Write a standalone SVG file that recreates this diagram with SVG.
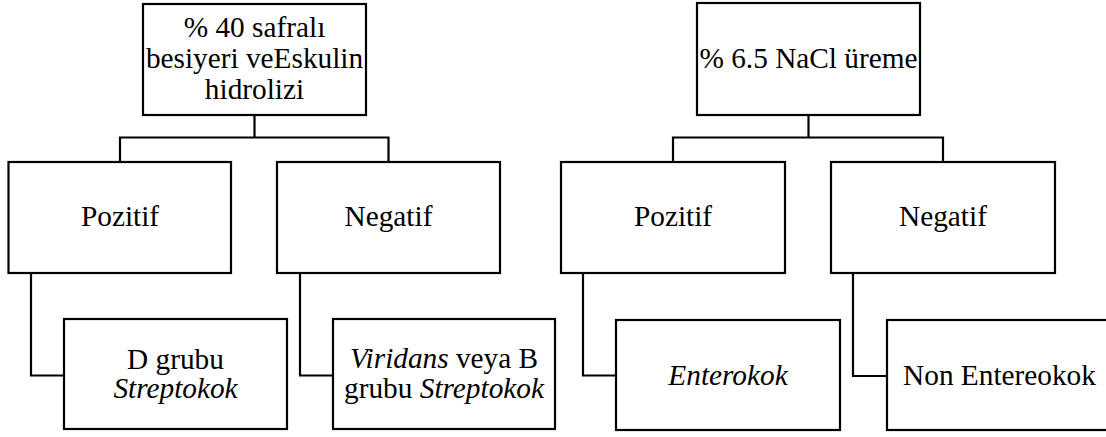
<svg xmlns="http://www.w3.org/2000/svg" width="1106" height="437" viewBox="0 0 1106 437" font-family="Liberation Serif, Times New Roman, DejaVu Serif, serif" font-size="29.3">
<style>
.box{fill:#fff;stroke:#000;stroke-width:2.2}
.con{fill:none;stroke:#000;stroke-width:2.2}
text{fill:#000;text-anchor:middle}
.it{font-style:italic}
</style>
<rect width="1106" height="437" fill="#fff"/>
<g id="connectors">
<path class="con" d="M254.5 115V137.5M120 162V137.5H388.5V162"/>
<path class="con" d="M31 273V375.5H64"/>
<path class="con" d="M300 273V375.5H333"/>
<path class="con" d="M808.5 115V137.5M673 162V137.5H943V162"/>
<path class="con" d="M583 273V375.5H616"/>
<path class="con" d="M853 273V376H887"/>
</g>
<g id="n1"><rect class="box" x="143" y="4" width="223" height="111"/>
<text x="254.5" y="37">% 40 safralı</text><text x="254.5" y="68">besiyeri veEskulin</text><text x="254.5" y="99">hidrolizi</text></g>
<g id="n2"><rect class="box" x="8.5" y="162" width="222.5" height="111"/><text x="120" y="226">Pozitif</text></g>
<g id="n3"><rect class="box" x="277" y="162" width="223" height="111"/><text x="388.5" y="226">Negatif</text></g>
<g id="n4"><rect class="box" x="64" y="319" width="223" height="110"/><text x="175.5" y="369">D grubu</text><text x="175.5" y="398" class="it">Streptokok</text></g>
<g id="n5"><rect class="box" x="333" y="319" width="222" height="110"/><text x="444" y="368"><tspan class="it">Viridans</tspan> veya B</text><text x="444" y="398">grubu <tspan class="it">Streptokok</tspan></text></g>
<g id="n6"><rect class="box" x="697" y="3" width="223" height="112"/><text x="808.5" y="68">% 6.5 NaCl üreme</text></g>
<g id="n7"><rect class="box" x="561" y="162" width="224" height="111"/><text x="673" y="226">Pozitif</text></g>
<g id="n8"><rect class="box" x="831" y="162" width="224" height="111"/><text x="943" y="226">Negatif</text></g>
<g id="n9"><rect class="box" x="616" y="320" width="224" height="110"/><text x="728" y="385" class="it">Enterokok</text></g>
<g id="n10"><rect class="box" x="887" y="320" width="225" height="110"/><text x="999.5" y="385">Non Entereokok</text></g>
</svg>
